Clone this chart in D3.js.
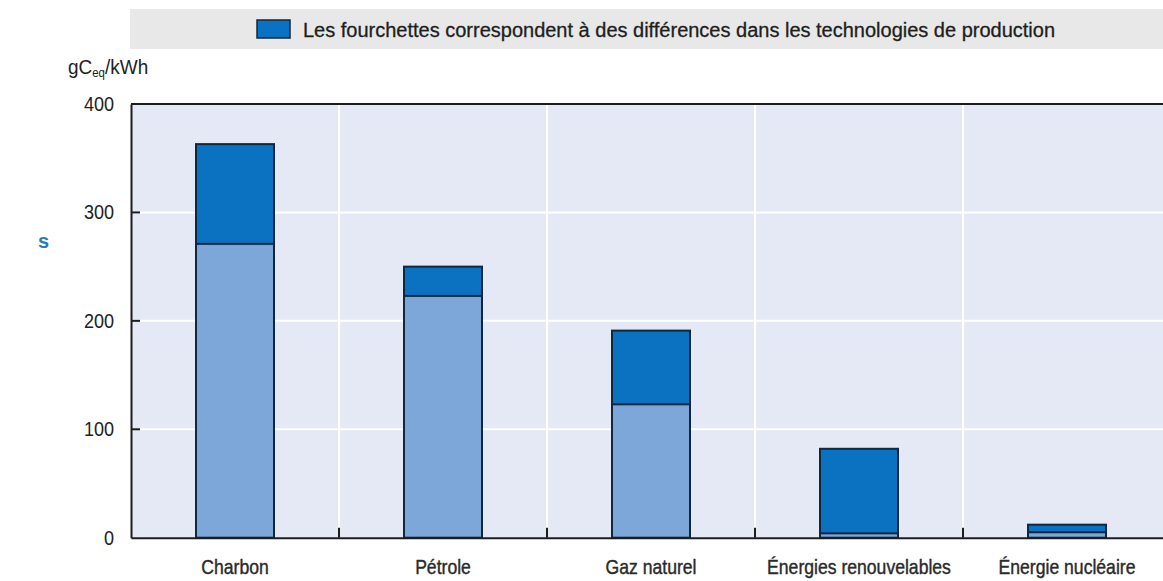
<!DOCTYPE html>
<html><head><meta charset="utf-8">
<script src="https://cdn.jsdelivr.net/npm/d3@7"></script>
<style>body{margin:0;background:#fff;} svg{display:block;}</style>
</head><body>
<svg id="c" width="1163" height="581"></svg>
<script>
const categories = ["Charbon", "Pétrole", "Gaz naturel", "Énergies renouvelables", "Énergie nucléaire"];
const lowValues  = [271, 223, 123, 4, 5];
const highValues = [363, 250, 191, 82, 12];
const yTicks = [0, 100, 200, 300, 400];
const legendText = "Les fourchettes correspondent à des différences dans les technologies de production";
const unitLabel = "gC";
const unitSub = "eq";
const unitRest = "/kWh";

const svg = d3.select("#c");
const L = 131, R = 1171, T = 104, B = 537.7;
const font = "'Liberation Sans',Arial,Helvetica,sans-serif";
const sx = 0.86;

const x = d3.scaleBand().domain(categories).range([L, R]).padding(0);
const xb = d3.scaleBand().domain(categories).range([L, R]).paddingInner(0.625).paddingOuter(0.3125);
const y = d3.scaleLinear().domain([0, 400]).range([B, T]);

// legend band
svg.append("rect").attr("x", 130).attr("y", 9).attr("width", 1040).attr("height", 40).attr("fill", "#e8e8e8");
svg.append("rect").attr("x", 257).attr("y", 20).attr("width", 33).attr("height", 18)
  .attr("fill", "#0a72c0").attr("stroke", "#10273d").attr("stroke-width", 1.5);
svg.append("text").attr("x", 303).attr("y", 37).text(legendText)
  .attr("font-family", font).attr("font-size", 20).attr("fill", "#1e1e1e")
  .attr("stroke", "#1e1e1e").attr("stroke-width", 0.3)
  .attr("textLength", 752).attr("lengthAdjust", "spacingAndGlyphs");

// unit label
const ut = svg.append("text").attr("transform", `translate(68,74) scale(0.95,1)`)
  .attr("font-family", font).attr("font-size", 20).attr("fill", "#222");
ut.append("tspan").text(unitLabel);
ut.append("tspan").text(unitSub).attr("font-size", 12).attr("dy", 3);
ut.append("tspan").text(unitRest).attr("font-size", 20).attr("dy", -3);

// stray letter
svg.append("text").attr("x", 38).attr("y", 248).text("s").attr("font-family", font)
  .attr("font-weight", "bold").attr("font-size", 20).attr("fill", "#2a7ab8");

// plot background
svg.append("rect").attr("x", L).attr("y", T).attr("width", R - L).attr("height", B - T).attr("fill", "#e4e9f5");

// gridlines
svg.append("g").selectAll("line").data(yTicks.filter(d => d > 0 && d < 400)).join("line")
  .attr("x1", L).attr("x2", R).attr("y1", d => y(d)).attr("y2", d => y(d))
  .attr("stroke", "#fff").attr("stroke-width", 2);
svg.append("g").selectAll("line").data(categories.slice(1)).join("line")
  .attr("x1", d => x(d)).attr("x2", d => x(d)).attr("y1", T).attr("y2", B)
  .attr("stroke", "#fff").attr("stroke-width", 2);

// bars
const bars = svg.append("g");
bars.selectAll("rect.hi").data(categories).join("rect").attr("class", "hi")
  .attr("x", d => xb(d)).attr("width", xb.bandwidth())
  .attr("y", (d, i) => y(highValues[i])).attr("height", (d, i) => y(0) - y(highValues[i]))
  .attr("fill", "#0a72c0").attr("stroke", "#10273d").attr("stroke-width", 2);
bars.selectAll("rect.lo").data(categories).join("rect").attr("class", "lo")
  .attr("x", d => xb(d)).attr("width", xb.bandwidth())
  .attr("y", (d, i) => y(lowValues[i])).attr("height", (d, i) => y(0) - y(lowValues[i]))
  .attr("fill", "#7ea7d9").attr("stroke", "#10273d").attr("stroke-width", 2);

// top frame
svg.append("line").attr("x1", L).attr("x2", R).attr("y1", T).attr("y2", T).attr("stroke", "#1c1c1c").attr("stroke-width", 2);

// y axis
const yAxis = svg.append("g").attr("transform", `translate(${L},0)`)
  .call(d3.axisLeft(y).tickValues(yTicks).tickSize(0));
yAxis.select(".domain").attr("stroke", "#1c1c1c").attr("stroke-width", 2);
yAxis.selectAll("text").attr("font-family", font).attr("font-size", 21).attr("fill", "#222")
  .attr("x", -17 / sx).attr("dy", "0.3em").attr("transform", `scale(${sx},1)`);
svg.append("g").selectAll("line").data(yTicks.filter(d => d > 0 && d < 400)).join("line")
  .attr("x1", L).attr("x2", L + 9).attr("y1", d => y(d)).attr("y2", d => y(d))
  .attr("stroke", "#1c1c1c").attr("stroke-width", 2);

// x axis
const xAxis = svg.append("g").attr("transform", `translate(0,${B})`)
  .call(d3.axisBottom(x).tickSize(0));
xAxis.select(".domain").attr("stroke", "#1c1c1c").attr("stroke-width", 2);
xAxis.selectAll("text").attr("font-family", font).attr("font-size", 20).attr("fill", "#2a2a2a")
  .attr("stroke", "#2a2a2a").attr("stroke-width", 0.4)
  .attr("y", 36).attr("dy", 0).attr("transform", "scale(0.88,1)");
svg.append("g").selectAll("line").data(categories.slice(1)).join("line")
  .attr("x1", d => x(d)).attr("x2", d => x(d)).attr("y1", B).attr("y2", B - 10)
  .attr("stroke", "#1c1c1c").attr("stroke-width", 2);
</script>
</body></html>
